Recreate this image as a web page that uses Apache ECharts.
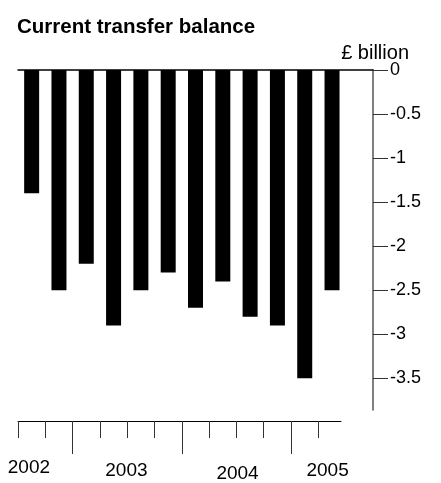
<!DOCTYPE html>
<html>
<head>
<meta charset="utf-8">
<script src="https://cdn.jsdelivr.net/npm/echarts@6/dist/echarts.min.js"></script>
<style>
  html, body { margin: 0; padding: 0; background: #fff; }
  #chart { width: 441px; height: 483px; }
</style>
</head>
<body>
<div id="chart"></div>
<script>
// quarters 2002 Q3 .. 2005 Q2, last slot is empty space up to the right axis
const quarters = ['2002 Q3', '2002 Q4', '2003 Q1', '2003 Q2', '2003 Q3', '2003 Q4',
  '2004 Q1', '2004 Q2', '2004 Q3', '2004 Q4', '2005 Q1', '2005 Q2', '']
const balance = [-1.4, -2.5, -2.2, -2.9, -2.5, -2.3, -2.7, -2.4, -2.8, -2.9, -3.5, -2.5]
const yTicks = [0, -0.5, -1, -1.5, -2, -2.5, -3, -3.5]
const years = ['2002', '2003', '2004', '2005']
const yearPos = [0.4, 3.97, 8.04, 11.34]
const quarterTicks = [0, 1, 2, 3, 4, 5, 6, 7, 8, 9, 10, 11]
const yearTicks = [2, 6, 10]

const FONT = '"Liberation Sans", Arial, sans-serif'

const chart = echarts.init(document.getElementById('chart'))
const option = {
  animation: false,
  backgroundColor: '#fff',
  title: [
    {
      text: 'Current transfer balance',
      left: 12,
      top: 12,
      textStyle: { fontFamily: FONT, fontSize: 20.5, fontWeight: 'bold', color: '#000' },
    },
    {
      text: '£ billion',
      right: 27,
      top: 38,
      textStyle: { fontFamily: FONT, fontSize: 20, fontWeight: 'normal', color: '#000' },
    },
  ],
  grid: [
    { left: 18, right: 68, top: 70, bottom: 73 },
    { left: 18, right: 100, top: 415, height: 10 },
  ],
  xAxis: [
    {
      type: 'category',
      gridIndex: 0,
      position: 'top',
      data: quarters,
      axisLine: { show: true, lineStyle: { color: '#000', width: 1.5 } },
      axisTick: { show: false },
      axisLabel: { show: false },
    },
    {
      type: 'value',
      gridIndex: 1,
      position: 'bottom',
      min: 0,
      max: 11.83,
      splitLine: { show: false },
      axisLine: { show: true, lineStyle: { color: '#000', width: 1 } },
      axisTick: { show: true, customValues: quarterTicks, length: 17, lineStyle: { color: '#333', width: 1 } },
      axisLabel: { show: false },
    },
    {
      type: 'value',
      gridIndex: 1,
      position: 'bottom',
      min: 0,
      max: 11.83,
      splitLine: { show: false },
      axisLine: { show: false },
      axisTick: { show: true, customValues: yearTicks, length: 33, lineStyle: { color: '#333', width: 1 } },
      axisLabel: {
        show: true,
        customValues: yearPos,
        margin: 37,
        formatter: function (v) {
          const i = yearPos.indexOf(v)
          return i < 0 ? '' : '{y' + i + '|' + years[i] + '}'
        },
        rich: {
          y0: { fontFamily: FONT, fontSize: 19, color: '#000', padding: [0, 0, 0, 0] },
          y1: { fontFamily: FONT, fontSize: 19, color: '#000', padding: [3, 0, 0, 0] },
          y2: { fontFamily: FONT, fontSize: 19, color: '#000', padding: [6, 0, 0, 0] },
          y3: { fontFamily: FONT, fontSize: 19, color: '#000', padding: [3, 0, 0, 0] },
        },
      },
    },
  ],
  yAxis: [
    {
      type: 'value',
      gridIndex: 0,
      position: 'right',
      min: -3.86,
      max: 0,
      splitLine: { show: false },
      axisLine: { show: true, lineStyle: { color: '#555', width: 1.5 } },
      axisTick: { show: true, customValues: yTicks, length: 15, lineStyle: { color: '#333', width: 1 } },
      axisLabel: {
        show: true,
        customValues: yTicks,
        margin: 17,
        fontFamily: FONT,
        fontSize: 18,
        color: '#000',
        formatter: function (v) { return String(v) },
      },
    },
    {
      type: 'value',
      gridIndex: 1,
      show: false,
    },
  ],
  series: [
    {
      type: 'bar',
      xAxisIndex: 0,
      yAxisIndex: 0,
      data: balance,
      barWidth: 15,
      itemStyle: { color: '#000' },
    },
  ],
}
option && chart.setOption(option)
</script>
</body>
</html>
